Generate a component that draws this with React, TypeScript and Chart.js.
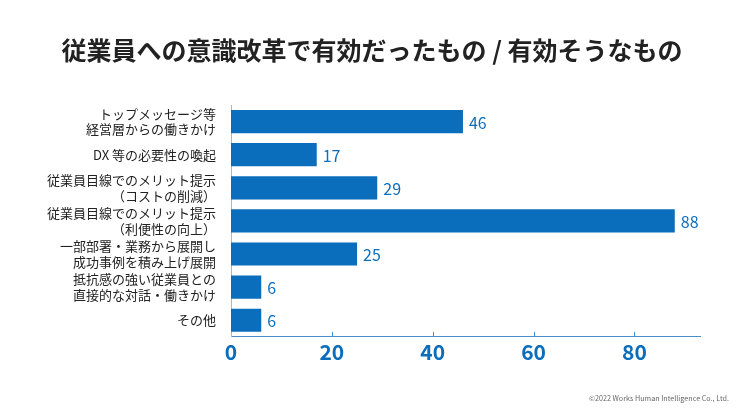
import React, { useEffect, useRef } from "react";
import { Chart, registerables } from "chart.js";

Chart.register(...registerables);

const categories: string[][] = [
  ["トップメッセージ等", "経営層からの働きかけ"],
  ["DX 等の必要性の喚起"],
  ["従業員目線でのメリット提示", "（コストの削減）"],
  ["従業員目線でのメリット提示", "（利便性の向上）"],
  ["一部部署・業務から展開し", "成功事例を積み上げ展開"],
  ["抵抗感の強い従業員との", "直接的な対話・働きかけ"],
  ["その他"],
];
const values: number[] = [46, 17, 29, 88, 25, 6, 6];
const xTicks: number[] = [0, 20, 40, 60, 80];

const titleText = "従業員への意識改革で有効だったもの / 有効そうなもの";
const copyright = "©2022 Works Human Intelligence Co., Ltd.";

const BLUE = "#0b6ebc";
const FONT = "'Noto Sans CJK JP', 'Noto Sans', sans-serif";

export default function App() {
  const ref = useRef<HTMLCanvasElement | null>(null);
  useEffect(() => {
    if (!ref.current) return;
    const labelPlugin = {
      id: "extras",
      afterDatasetsDraw(chart: any) {
        const ctx = chart.ctx;
        const meta = chart.getDatasetMeta(0);
        ctx.save();
        ctx.fillStyle = BLUE;
        ctx.font = `400 16px ${FONT}`;
        ctx.textAlign = "left";
        ctx.textBaseline = "middle";
        meta.data.forEach((bar: any, i: number) => {
          ctx.fillText(String(values[i]), bar.x + 6, bar.y + 1);
        });
        const xs = chart.scales.x;
        ctx.strokeStyle = "#4a8fcc";
        ctx.lineWidth = 1;
        xTicks.forEach((v) => {
          if (v === 0) return;
          const px = Math.round(xs.getPixelForValue(v)) + 0.5;
          ctx.beginPath();
          ctx.moveTo(px, xs.top);
          ctx.lineTo(px, xs.top - 5);
          ctx.stroke();
        });
        // title
        ctx.fillStyle = "#222";
        ctx.font = `bold 25px ${FONT}`;
        ctx.textAlign = "center";
        ctx.textBaseline = "middle";
        ctx.fillText(titleText, 372, 50);
        // copyright
        ctx.fillStyle = "#666";
        ctx.font = `7.2px ${FONT}`;
        ctx.textAlign = "right";
        ctx.textBaseline = "middle";
        ctx.fillText(copyright, 729, 398);
        ctx.restore();
      },
    };
    const chart = new Chart(ref.current, {
      type: "bar",
      data: {
        labels: categories,
        datasets: [
          {
            data: values,
            backgroundColor: BLUE,
            barPercentage: 0.7,
            categoryPercentage: 1,
          },
        ],
      },
      options: {
        indexAxis: "y",
        animation: false,
        responsive: false,
        maintainAspectRatio: false,
        layout: { padding: { left: 0, right: 40, top: 105, bottom: 46 } },
        plugins: {
          legend: { display: false },
          tooltip: { enabled: false },
          title: { display: false },
        },
        scales: {
          x: {
            min: 0,
            max: 93,
            afterBuildTicks(scale: any) {
              scale.ticks = xTicks.map((v) => ({ value: v }));
            },
            grid: { display: false, drawTicks: false },
            border: { display: true, color: "#4a8fcc", width: 1 },
            ticks: {
              color: BLUE,
              padding: 3,
              font: { family: FONT, size: 21, weight: "bold" },
            },
          },
          y: {
            afterFit(scale: any) {
              scale.width = 231;
            },
            grid: { display: false, drawTicks: false },
            border: { display: true, color: "#9bbbd8", width: 1 },
            ticks: {
              autoSkip: false,
              color: "#222",
              padding: 15,
              font: { family: FONT, size: 13, lineHeight: 1.2 },
            },
          },
        },
      },
      plugins: [labelPlugin],
    });
    return () => chart.destroy();
  }, []);
  return (
    <div style={{ position: "fixed", left: 0, top: 0, width: 740, height: 414, background: "#fff" }}>
      <canvas ref={ref} width={740} height={414} style={{ width: 740, height: 414 }} />
    </div>
  );
}
